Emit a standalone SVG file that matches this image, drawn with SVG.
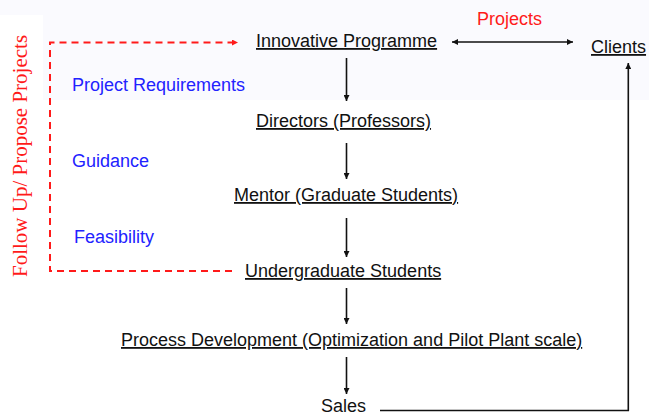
<svg xmlns="http://www.w3.org/2000/svg" width="649" height="416" viewBox="0 0 649 416">
  <defs>
    <style>
      .node { font-family: "Liberation Sans", Arial, sans-serif; font-size: 18px; fill: #111; }
      .ul { text-decoration: underline; }
      .lbl { font-family: "Liberation Sans", Arial, sans-serif; font-size: 18px; fill: #2222ff; }
      .red { fill: #ff1a1a; }
      .side { font-family: "Liberation Serif", "Times New Roman", serif; font-size: 21px; fill: #ff1a1a; }
      .flow { stroke: #111; stroke-width: 1.6; fill: none; }
      .dash { stroke: #ff1a1a; stroke-width: 2; fill: none; stroke-dasharray: 7 5; }
    </style>
    <marker id="ah" viewBox="0 0 10 10" refX="10" refY="5" markerWidth="6" markerHeight="6" markerUnits="userSpaceOnUse" orient="auto-start-reverse">
      <path d="M0,0 L10,5 L0,10 z" fill="#111"/>
    </marker>
    <marker id="ahr" viewBox="0 0 10 10" refX="10" refY="5" markerWidth="6" markerHeight="6" markerUnits="userSpaceOnUse" orient="auto">
      <path d="M0,0 L10,5 L0,10 z" fill="#ff1a1a"/>
    </marker>
  </defs>

  <!-- page background -->
  <rect x="0" y="0" width="649" height="416" fill="#ffffff"/>
  <rect x="0" y="0" width="649" height="100" fill="#fafafe"/>
  <rect x="0" y="15" width="43" height="267" fill="#ffffff"/>

  <!-- connectors -->
  <g id="connectors">
    <path class="dash" d="M232,271 H50 V42.5 H238" marker-end="url(#ahr)"/>
    <line class="flow" x1="452" y1="42" x2="573" y2="42" marker-start="url(#ah)" marker-end="url(#ah)"/>
    <line class="flow" x1="346.5" y1="58" x2="346.5" y2="101" marker-end="url(#ah)"/>
    <line class="flow" x1="346.5" y1="143" x2="346.5" y2="179" marker-end="url(#ah)"/>
    <line class="flow" x1="346.5" y1="218" x2="346.5" y2="257" marker-end="url(#ah)"/>
    <line class="flow" x1="346.5" y1="288" x2="346.5" y2="324" marker-end="url(#ah)"/>
    <line class="flow" x1="346.5" y1="357" x2="346.5" y2="394" marker-end="url(#ah)"/>
    <path class="flow" d="M380,410.5 H628.3 V63" stroke-width="2" marker-end="url(#ah)"/>
  </g>

  <!-- side label -->
  <g id="follow-up">
    <text class="side" transform="translate(27,277) rotate(-90)">Follow Up/ Propose Projects</text>
  </g>

  <!-- relation labels -->
  <g id="labels">
    <text class="lbl red" x="477" y="25">Projects</text>
    <text class="lbl" x="72" y="91">Project Requirements</text>
    <text class="lbl" x="72" y="167">Guidance</text>
    <text class="lbl" x="74" y="243">Feasibility</text>
  </g>

  <g id="innovative-programme"><text class="node ul" x="256" y="47">Innovative Programme</text></g>
  <g id="clients"><text class="node ul" x="591" y="53">Clients</text></g>
  <g id="directors"><text class="node ul" x="256" y="127">Directors (Professors)</text></g>
  <g id="mentor"><text class="node ul" x="234" y="201">Mentor (Graduate Students)</text></g>
  <g id="undergraduates"><text class="node ul" x="245" y="277">Undergraduate Students</text></g>
  <g id="process-development"><text class="node ul" x="121" y="346">Process Development (Optimization and Pilot Plant scale)</text></g>
  <g id="sales"><text class="node" x="321" y="412">Sales</text></g>
</svg>
